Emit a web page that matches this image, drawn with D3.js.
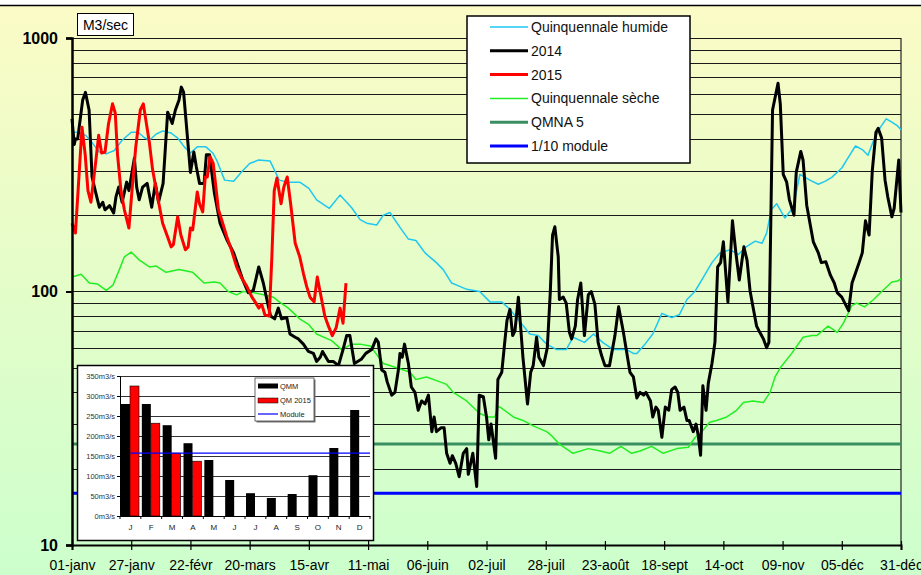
<!DOCTYPE html>
<html>
<head>
<meta charset="utf-8">
<script src="https://cdn.jsdelivr.net/npm/d3@7/dist/d3.min.js"></script>
<style>
  body { margin: 0; background: #fff; }
  svg { display: block; font-family: 'Liberation Sans', Arial, sans-serif; }
</style>
</head>
<body>
<div id="chart"></div>
<script>
// ---- data ----
const tickLabels = ['01-janv', '27-janv', '22-févr', '20-mars', '15-avr', '11-mai', '06-juin', '02-juil',
  '28-juil', '23-août', '18-sept', '14-oct', '09-nov', '05-déc', '31-déc']

// [jour de l'année, débit m3/s]
const serie2014 = [[0,480],[1,380],[1.5,400],[2.5,400],[4.7,570],[5.9,610],[7.5,520],[8.8,283],[10.2,250],[12,215],[13.5,225],[14.5,210],[16.5,218],[18.3,204],[19.3,236],[20.5,258],[22,225],[24,270],[25,250],[27.4,336],[28.4,258],[29.5,230],[31,258],[33,267],[35,215],[36.6,267],[38,225],[40,267],[42,510],[44,460],[45.4,520],[47,570],[48,640],[49,612],[52,295],[53.5,355],[54.6,310],[56,267],[58,267],[59,346],[60.4,346],[62.5,245],[65,186],[68,160],[71,142],[74,118],[75,111],[77.4,99],[79.6,101],[82,125],[84,108],[85.8,91],[87.2,80],[89,78],[90.6,86],[92,78],[94.3,79],[95.7,68],[98,66],[99.4,65],[101.6,62],[103.8,58],[106,57],[107.4,53],[109,55],[110,58],[112.6,53],[114.7,53],[117,51],[119,59],[120.6,67],[122,67],[124,52],[127,54],[129,57],[131.6,59],[133.5,65],[134.5,63],[136,49],[137.4,48],[138.4,44],[140.4,39],[141.8,40],[143.3,49],[144,57],[145,55],[146,62],[147.7,52],[149,42],[150.6,40],[152,34],[153.5,37],[155,36],[156.5,39],[158,28],[159,32],[160,28],[162,29],[163.4,29],[164.5,23],[166,21],[167,22.5],[168.5,21],[170,18.6],[171.8,23],[173.3,24],[174,19],[176,23],[177.7,17],[178.8,39],[180.6,38.5],[182,32],[183,26],[184,30],[186,22],[187,45],[188.7,48],[190,63],[191,77],[192.3,85],[193.5,67],[194.5,70],[196,95],[198,55],[200,36],[201.4,48],[202.5,51],[204,66],[205,55],[207,51],[208.7,60],[210,99],[211,167],[212,180],[213.5,137],[214,93],[215.7,95],[217,90],[218.4,69],[219.4,65],[221,73],[222,93],[223.4,108],[225,67],[226.7,97],[228,100],[229.6,89],[231,63],[232.5,56],[234,51],[236,51],[238.4,67],[240,87],[242,70],[243.5,58],[245,48],[246.5,46],[248,38],[249.4,40],[251,39],[252,40],[254,37],[255,32],[256.4,35],[257.4,34],[259,26.6],[260.5,35],[262,34],[263.3,41],[264.8,42],[266,40],[267,34],[268.7,35],[270,31],[271,31],[272.8,28],[274,30],[275,27],[276,22.6],[277,42.5],[278.4,34],[279.4,43.5],[281,52],[282.3,63],[283.5,125],[284.8,130],[286,157],[288,91],[290,190],[291.5,142],[293,111],[295,150],[296.4,133],[297.7,101],[299,87],[300.6,73],[302,69],[303.6,65],[305,60],[306,63],[307.6,520],[310,663],[311,550],[312.3,290],[313.8,270],[315,230],[317,200],[318,295],[320,357],[321,330],[322.6,219],[325.5,157],[327.7,142],[329,130],[331,131],[333,116],[334.7,108],[336,99],[338,95],[339.6,89],[341,84],[342.5,108],[344,118],[345.6,130],[347,142],[348.4,190],[350,167],[351.4,300],[353,425],[354,440],[355.5,403],[357,275],[358.2,236],[360,197],[361,213],[363,330],[364,205]]

const serie2015 = [[0,186],[1.5,170],[2.5,236],[4.4,445],[5.8,346],[7,250],[8.3,225],[10.5,330],[11.7,413],[13,352],[14.5,355],[16,457],[17.8,550],[19,505],[20,346],[21.5,250],[23,210],[25,178],[26.6,267],[28,372],[30,520],[31.3,550],[32.5,470],[34,385],[35.4,302],[37.6,236],[39.8,186],[42,164],[43.5,150],[44.5,153],[46.4,197],[47.8,167],[49.8,146],[51,150],[52,178],[53,175],[55,247],[56,222],[57.4,206],[58.5,283],[59.4,283],[60.6,340],[62,320],[64.3,210],[65.7,192],[68,164],[70,146],[72.3,125],[74.5,113],[76.7,105],[79,95],[80.4,91],[82,86],[83.3,89],[84.7,81],[86.6,80],[87.7,133],[88.8,250],[90,280],[91.8,222],[93,258],[94.5,283],[96,222],[98,155],[100,137],[101.6,118],[103,105],[104.5,95],[106.3,91],[107.7,114],[109.6,93],[111,80],[112.6,73],[114.3,67],[116,72],[117.7,86],[119,75],[120.3,108]]

const quinqHumide = [[0,425],[3,425],[6,413],[9,385],[12,355],[15,349],[18.6,360],[22,395],[26,425],[29,425],[31.7,405],[34,395],[37,418],[40,430],[43.5,422],[46.4,403],[49.3,372],[52,352],[55,372],[58.8,372],[61.8,352],[63.5,330],[67,275],[71,272],[74.5,297],[78,320],[82,330],[87,327],[91,275],[95,270],[100,270],[104,255],[107.4,230],[113,213],[117.7,240],[122.8,214],[126.5,192],[129.4,186],[133.8,183],[136.7,200],[139.6,205],[144,179],[147.7,161],[151,159],[155,142],[157,137],[160,130],[163,122],[166.7,108],[170,105],[173.3,102],[179,100],[183.5,91],[188.7,91],[192.3,85],[196.7,76],[201,68],[204.7,67],[208.4,62],[212.8,59],[217,59],[220,66],[225,63],[229,68],[233,63],[237.7,59],[243.5,59],[246.5,57],[248,57],[251.6,62],[255,68],[259,82],[263.3,79],[266.7,81],[270,93],[273.5,100],[277,113],[281,130],[284.5,142],[289,146],[292.6,140],[296,150],[300,158],[303,155],[305,170],[307,210],[309.4,222],[313,195],[316.7,215],[319.6,290],[324,275],[327.7,265],[330.6,272],[333.6,282],[338,307],[341,340],[344,375],[347,363],[349.5,345],[352,395],[355,445],[357.5,480],[360,466],[362.5,450],[364,435]]

const quinqSeche = [[0,114],[4,117],[7.6,108],[11.3,107],[15,101],[18,106],[20.8,122],[23,137],[26,143],[29.6,133],[34,125],[37,126],[41.3,119],[47,122],[53,119],[58,108],[62.5,109],[65,108],[68.6,100],[72.3,97],[75,100],[79.6,99],[84,97],[88.4,95],[91,91],[95,86],[100,78],[104,74],[107.4,68],[114,64],[118.4,59],[122.8,62],[126.5,62],[131,61],[136.7,52],[142.6,50],[148.4,48],[151,45],[155.7,46],[161.6,44],[164.5,43],[167.4,40],[173.3,37],[179,33],[182.8,32],[185.7,32],[187,35],[188,35],[193.8,32],[198,31],[202.5,29.5],[208.4,28],[210.6,27],[214,25],[220,23],[226.7,24],[232,23.5],[236,23],[241,24.5],[245.7,23],[249.4,23.5],[254.5,24.5],[259.6,23],[265.5,24],[270.6,24.3],[273.5,26.5],[276.5,28],[280,30.5],[283,31],[287.5,32],[291.8,34],[294.8,36.5],[299,37],[303.6,36.5],[306.5,40],[308.7,46],[311,50],[316,57],[321,66],[325,67],[327,67],[332,73],[336,69],[338.7,75],[342.4,88],[344.5,90],[348,87],[352,93],[355.5,100],[360,109],[362.5,110],[364,112]]

const qmna5 = 25
const dixiemeModule = 16

// encart : débits moyens mensuels
const mois = ['J', 'F', 'M', 'A', 'M', 'J', 'J', 'A', 'S', 'O', 'N', 'D']
const qmm = [280, 280, 227, 182, 140, 90, 57, 45, 55, 102, 170, 265]
const qm2015 = [325, 232, 157, 137]
const module = 157

const legendItems = [
  { name: 'Quinquennale humide', color: '#1ec8f0', width: 1.5 },
  { name: '2014', color: '#000', width: 3 },
  { name: '2015', color: '#ff0000', width: 3 },
  { name: 'Quinquennale sèche', color: '#22ee22', width: 1.5 },
  { name: 'QMNA 5', color: '#3a8f62', width: 3 },
  { name: '1/10 module', color: '#0000ff', width: 3 },
]

// ---- chart ----
const W = 921, H = 575
const svg = d3.select('#chart').append('svg').attr('width', W).attr('height', H)

const defs = svg.append('defs')
const grad = defs.append('linearGradient').attr('id', 'bg').attr('x1', 0).attr('y1', 0).attr('x2', 0).attr('y2', 1)
grad.append('stop').attr('offset', '0%').attr('stop-color', '#fbfbc6')
grad.append('stop').attr('offset', '100%').attr('stop-color', '#ccffcc')

svg.append('rect').attr('x', 0).attr('y', 6).attr('width', W).attr('height', H - 6).attr('fill', 'url(#bg)')
svg.append('line').attr('x1', 0).attr('x2', W).attr('y1', 5.5).attr('y2', 5.5).attr('stroke', '#000').attr('stroke-width', 1.5)

const x = d3.scaleLinear().domain([0, 364]).range([72, 901])
const y = d3.scaleLog().domain([10, 1000]).range([545, 38])

// grille
svg.append('g').selectAll('line')
  .data(y.ticks())
  .enter().append('line')
  .attr('x1', x(0)).attr('x2', x(364))
  .attr('y1', d => Math.round(y(d)) + 0.5).attr('y2', d => Math.round(y(d)) + 0.5)
  .attr('stroke', '#1a1a1a').attr('stroke-width', 1)

svg.append('line').attr('x1', x(364)).attr('x2', x(364)).attr('y1', y(1000)).attr('y2', y(10))
  .attr('stroke', '#222').attr('stroke-width', 1.2)

// seuils
svg.append('line').attr('x1', x(0)).attr('x2', x(364)).attr('y1', y(qmna5)).attr('y2', y(qmna5))
  .attr('stroke', '#3a8f62').attr('stroke-width', 3)
svg.append('line').attr('x1', x(0)).attr('x2', x(364)).attr('y1', y(dixiemeModule)).attr('y2', y(dixiemeModule))
  .attr('stroke', '#0000ff').attr('stroke-width', 3)

const lineGen = d3.line().x(d => x(d[0])).y(d => y(d[1]))

function drawSerie(data, color, width) {
  svg.append('path').datum(data)
    .attr('d', lineGen)
    .attr('fill', 'none')
    .attr('stroke', color)
    .attr('stroke-width', width)
    .attr('stroke-linejoin', 'round')
}
drawSerie(quinqHumide, '#1ec8f0', 1.5)
drawSerie(quinqSeche, '#22ee22', 1.5)
drawSerie(serie2014, '#000', 3)
drawSerie(serie2015, '#ff0000', 3)

// axes
const xAxis = svg.append('g').attr('transform', 'translate(0,' + y(10) + ')')
  .call(d3.axisBottom(x).tickValues(d3.range(0, 365, 26)).tickSize(5).tickPadding(10)
    .tickFormat((d, i) => tickLabels[i]))
xAxis.select('.domain').attr('stroke', '#000').attr('stroke-width', 2)
xAxis.selectAll('.tick line').attr('y1', -4).attr('stroke', '#000').attr('stroke-width', 1.2)
xAxis.selectAll('text').attr('font-size', 14).attr('fill', '#000').attr('font-family', 'Liberation Sans, Arial')

const yAxis = svg.append('g').attr('transform', 'translate(' + x(0) + ',0)')
  .call(d3.axisLeft(y).tickValues([10, 100, 1000]).tickSize(6).tickPadding(8).tickFormat(d3.format('d')))
yAxis.select('.domain').attr('stroke', '#000').attr('stroke-width', 2.5)
yAxis.selectAll('.tick line').attr('stroke', '#000').attr('stroke-width', 2)
yAxis.selectAll('text').attr('font-size', 16).attr('font-weight', 'bold').attr('fill', '#000')
  .attr('font-family', 'Liberation Sans, Arial')

// unité
svg.append('rect').attr('x', 77.5).attr('y', 13.5).attr('width', 56).attr('height', 22)
  .attr('fill', '#fff').attr('stroke', '#000').attr('stroke-width', 1)
svg.append('text').attr('x', 105.5).attr('y', 29.5).attr('text-anchor', 'middle')
  .attr('font-size', 14).text('M3/sec')

// légende
const leg = svg.append('g')
leg.append('rect').attr('x', 467).attr('y', 16).attr('width', 223).attr('height', 147)
  .attr('fill', '#fff').attr('stroke', '#000').attr('stroke-width', 1.5)
const legRow = leg.selectAll('.row').data(legendItems).enter().append('g')
  .attr('transform', (d, i) => 'translate(0,' + (27 + i * 23.8) + ')')
legRow.append('line').attr('x1', 490).attr('x2', 528).attr('y1', 0).attr('y2', 0)
  .attr('stroke', d => d.color).attr('stroke-width', d => d.width)
legRow.append('text').attr('x', 531).attr('y', 5).attr('font-size', 14).attr('fill', '#111').text(d => d.name)

// ---- encart ----
const ins = svg.append('g')
ins.append('rect').attr('x', 77.5).attr('y', 365.5).attr('width', 296).attr('height', 175)
  .attr('fill', '#fff').attr('stroke', '#000').attr('stroke-width', 1.5)

const ix = d3.scaleBand().domain(d3.range(12)).range([120, 370])
const iSub = d3.scaleBand().domain(['qmm', 'qm2015']).range([1, 19])
const iy = d3.scaleLinear().domain([0, 350]).range([516, 376])

ins.append('g').selectAll('line')
  .data(d3.range(50, 351, 50))
  .enter().append('line')
  .attr('x1', 120).attr('x2', 370)
  .attr('y1', d => Math.round(iy(d)) + 0.5).attr('y2', d => Math.round(iy(d)) + 0.5)
  .attr('stroke', '#333').attr('stroke-width', 1)

ins.append('g').selectAll('rect')
  .data(qmm)
  .enter().append('rect')
  .attr('x', (d, i) => ix(i) + iSub('qmm'))
  .attr('y', d => iy(d))
  .attr('width', iSub.bandwidth())
  .attr('height', d => iy(0) - iy(d))
  .attr('fill', '#000')

ins.append('g').selectAll('rect')
  .data(qm2015)
  .enter().append('rect')
  .attr('x', (d, i) => ix(i) + iSub('qm2015'))
  .attr('y', d => iy(d))
  .attr('width', iSub.bandwidth())
  .attr('height', d => iy(0) - iy(d))
  .attr('fill', '#ff0000')
  .attr('stroke', '#000').attr('stroke-width', 0.6)

ins.append('line').attr('x1', ix(0) + ix.bandwidth() / 2).attr('x2', 370)
  .attr('y1', iy(module)).attr('y2', iy(module))
  .attr('stroke', '#0000ff').attr('stroke-width', 1.2)

const ixAxis = ins.append('g').attr('transform', 'translate(0,' + iy(0) + ')')
  .call(d3.axisBottom(ix).tickSize(0).tickPadding(8).tickFormat(i => mois[i]))
ixAxis.select('.domain').attr('stroke', '#000')
ixAxis.selectAll('text').attr('font-size', 8).attr('fill', '#222').attr('font-family', 'Liberation Sans, Arial')
ixAxis.append('g').selectAll('line')
  .data(d3.range(13))
  .enter().append('line')
  .attr('x1', i => 120 + i * ix.step()).attr('x2', i => 120 + i * ix.step())
  .attr('y1', 0).attr('y2', 3).attr('stroke', '#000')

const iyAxis = ins.append('g').attr('transform', 'translate(120,0)')
  .call(d3.axisLeft(iy).tickValues(d3.range(0, 351, 50)).tickSize(3).tickPadding(2)
    .tickFormat(d => d + 'm3/s'))
iyAxis.select('.domain').attr('stroke', '#000')
iyAxis.selectAll('text').attr('font-size', 7.5).attr('fill', '#333').attr('font-family', 'Liberation Sans, Arial')

// légende encart
const ileg = ins.append('g')
ileg.append('rect').attr('x', 256.5).attr('y', 379.5).attr('width', 59).attr('height', 43).attr('fill', '#777')
ileg.append('rect').attr('x', 255).attr('y', 378).attr('width', 59).attr('height', 43)
  .attr('fill', '#fff').attr('stroke', '#444').attr('stroke-width', 0.8)
ileg.append('rect').attr('x', 258).attr('y', 383.5).attr('width', 20).attr('height', 5).attr('fill', '#000')
ileg.append('rect').attr('x', 258).attr('y', 398).attr('width', 20).attr('height', 5).attr('fill', '#ff0000')
  .attr('stroke', '#000').attr('stroke-width', 0.5)
ileg.append('line').attr('x1', 258).attr('x2', 278).attr('y1', 414).attr('y2', 414)
  .attr('stroke', '#0000ff').attr('stroke-width', 1.2)
ileg.selectAll('text').data(['QMM', 'QM 2015', 'Module']).enter().append('text')
  .attr('x', 280).attr('y', (d, i) => 389 + i * 14)
  .attr('font-size', 7.5).attr('fill', '#222').text(d => d)
</script>
</body>
</html>
